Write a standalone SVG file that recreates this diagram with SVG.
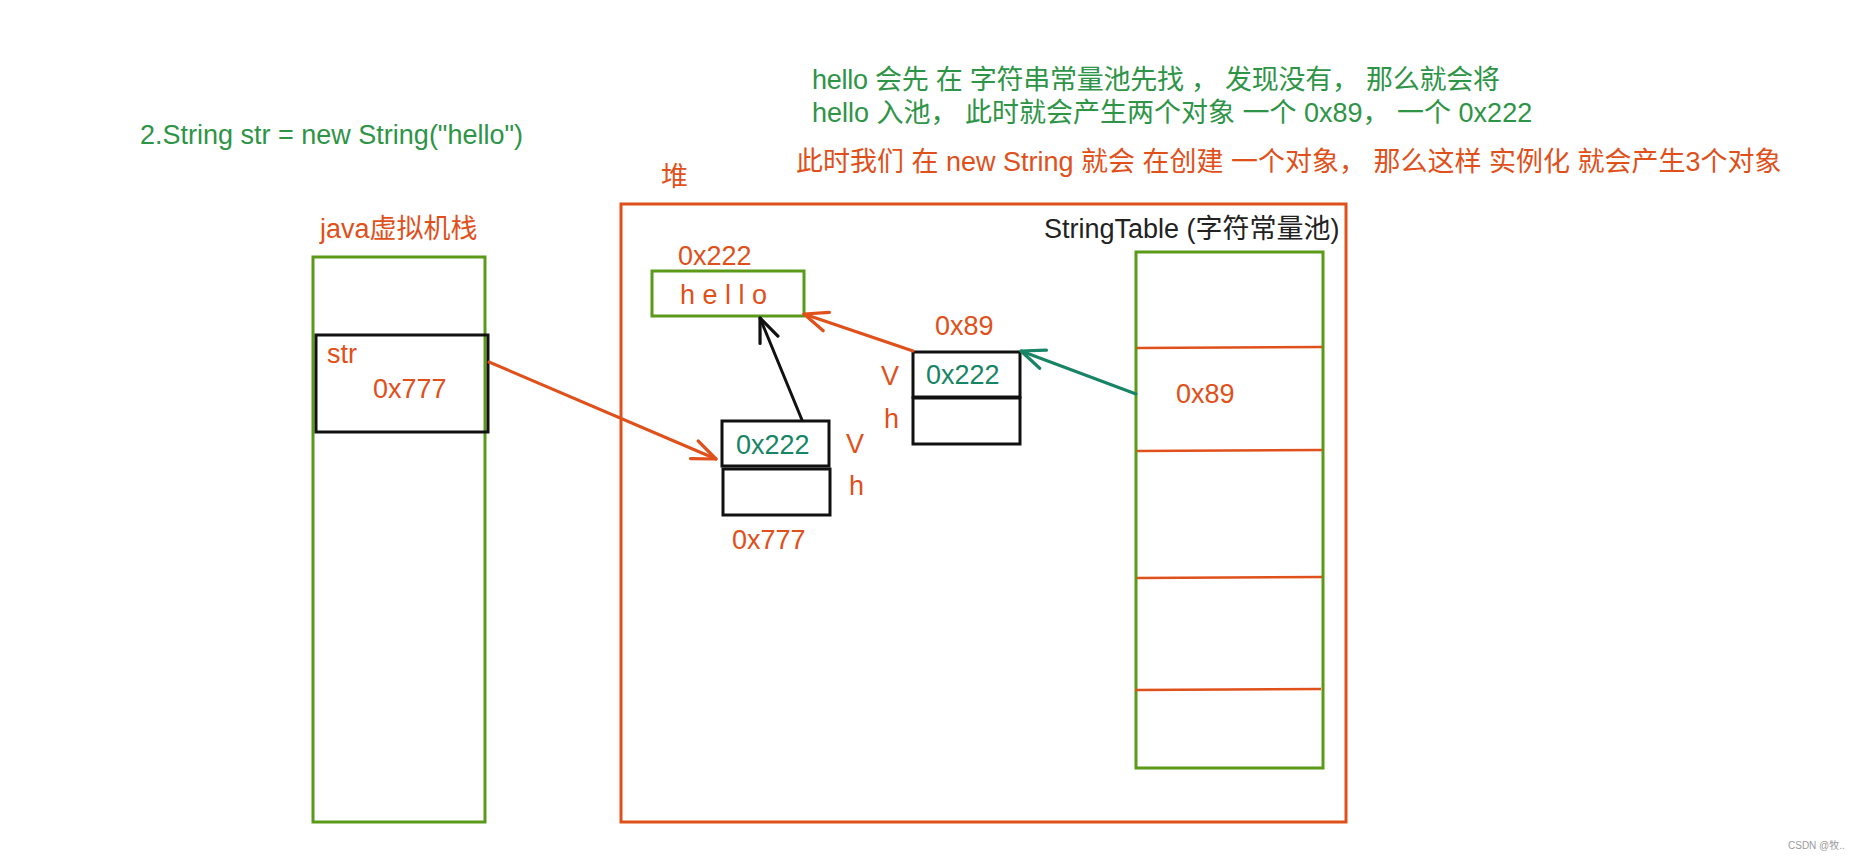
<svg xmlns="http://www.w3.org/2000/svg" width="1861" height="860" viewBox="0 0 1861 860">
<style>
text{font-family:"Liberation Sans","Noto Sans CJK SC",Arial,sans-serif;font-size:27px}
.g{fill:#2e9446}
.o{fill:#e0501a}
.t{fill:#178565}
.k{fill:#222}
.gb{fill:none;stroke:#5b9a18;stroke-width:3}
.ob{fill:none;stroke:#e0501a;stroke-width:3}
.kb{fill:none;stroke:#111;stroke-width:3}
.ol{stroke:#e0501a;stroke-width:2.5}
</style>
<defs>
<marker id="ao" markerUnits="userSpaceOnUse" markerWidth="30" markerHeight="30" viewBox="-24 -12 28 24" refX="0" refY="0" orient="auto"><path d="M-22,-9 L0,0 L-22,9" fill="none" stroke="#e0501a" stroke-width="3" stroke-linecap="round" stroke-linejoin="round"/></marker>
<marker id="ak" markerUnits="userSpaceOnUse" markerWidth="30" markerHeight="30" viewBox="-24 -12 28 24" refX="0" refY="0" orient="auto"><path d="M-22,-9 L0,0 L-22,9" fill="none" stroke="#111" stroke-width="3" stroke-linecap="round" stroke-linejoin="round"/></marker>
<marker id="at" markerUnits="userSpaceOnUse" markerWidth="30" markerHeight="30" viewBox="-24 -12 28 24" refX="0" refY="0" orient="auto"><path d="M-22,-9 L0,0 L-22,9" fill="none" stroke="#178565" stroke-width="3" stroke-linecap="round" stroke-linejoin="round"/></marker>
</defs>
<rect width="1861" height="860" fill="#fff"/>

<g id="notes">
<text class="g" x="140" y="144">2.String str = new String("hello")</text>
<text class="g" x="812" y="89" textLength="688" lengthAdjust="spacing">hello 会先 在 字符串常量池先找 ， 发现没有， 那么就会将</text>
<text class="g" x="812" y="122">hello 入池， 此时就会产生两个对象 一个 0x89， 一个 0x222</text>
<text class="o" x="796" y="171">此时我们 在 new String 就会 在创建 一个对象， 那么这样 实例化 就会产生3个对象</text>
</g>

<g id="stack">
<text class="o" x="320" y="238">java虚拟机栈</text>
<rect class="gb" x="313" y="257" width="172" height="565"/>
</g>

<g id="str-slot">
<rect class="kb" x="316" y="335" width="172" height="97"/>
<text class="o" x="327" y="363">str</text>
<text class="o" x="373" y="398">0x777</text>
</g>

<g id="heap">
<text class="o" x="661" y="186">堆</text>
<rect class="ob" x="621" y="204" width="725" height="618"/>
</g>

<g id="hello">
<text class="o" x="678" y="265">0x222</text>
<rect class="gb" x="652" y="271" width="152" height="45"/>
<text class="o" x="680" y="304">h e l l o</text>
</g>

<g id="obj-0x89">
<text class="o" x="935" y="335">0x89</text>
<rect class="kb" x="913" y="352" width="107" height="45"/>
<rect class="kb" x="913" y="398" width="107" height="46"/>
<text class="t" x="926" y="384">0x222</text>
<text class="o" x="881" y="385">V</text>
<text class="o" x="884" y="428">h</text>
</g>

<g id="obj-0x777">
<rect class="kb" x="722" y="421" width="107" height="45"/>
<rect class="kb" x="723" y="469" width="107" height="46"/>
<text class="t" x="736" y="454">0x222</text>
<text class="o" x="846" y="453">V</text>
<text class="o" x="849" y="495">h</text>
<text class="o" x="732" y="549">0x777</text>
</g>

<g id="string-table">
<text class="k" x="1044" y="238">StringTable (字符常量池)</text>
<rect class="gb" x="1136" y="252" width="187" height="516"/>
<line class="ol" x1="1137" y1="348" x2="1322" y2="347"/>
<line class="ol" x1="1137" y1="451" x2="1322" y2="450"/>
<line class="ol" x1="1137" y1="578" x2="1322" y2="577"/>
<line class="ol" x1="1135" y1="690" x2="1321" y2="689"/>
<text class="o" x="1176" y="403">0x89</text>
</g>

<g id="connectors" fill="none" stroke-width="3" stroke-linecap="round">
<line x1="489" y1="362" x2="716" y2="459" stroke="#e0501a" marker-end="url(#ao)"/>
<line x1="802" y1="420" x2="760" y2="318" stroke="#111" marker-end="url(#ak)"/>
<line x1="913" y1="351" x2="804" y2="314" stroke="#e0501a" marker-end="url(#ao)"/>
<line x1="1136" y1="394" x2="1021" y2="351" stroke="#178565" marker-end="url(#at)"/>
</g>

<text x="1788" y="849" style="font-size:10px;fill:#9a9a9a">CSDN @牧..</text>
</svg>
